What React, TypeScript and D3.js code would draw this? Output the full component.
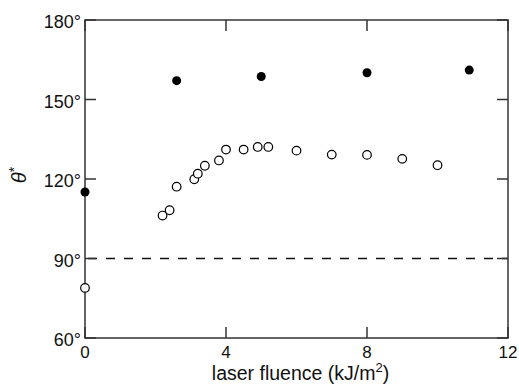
import React, { useEffect, useRef } from 'react';
import * as d3 from 'd3';

// filled circles: fluence (kJ/m2), theta* (deg)
const filledX = [0, 2.6, 5.0, 8.0, 10.9];
const filledY = [115.1, 157.1, 158.7, 160.1, 161.1];

// open circles
const openX = [0, 2.2, 2.4, 2.6, 3.1, 3.2, 3.4, 3.8, 4.0, 4.5, 4.9, 5.2, 6.0, 7.0, 8.0, 9.0, 10.0];
const openY = [78.9, 106.2, 108.2, 117.1, 119.9, 122.0, 125.0, 127.0, 131.1, 131.1, 132.1, 132.1, 130.7, 129.2, 129.1, 127.6, 125.2];

const xTicks = [0, 4, 8, 12];
const yTicks = [60, 90, 120, 150, 180];
const refLine = 90;

const W = 519;
const H = 385;

const App = () => {
  const svgRef = useRef<SVGSVGElement>(null);

  useEffect(() => {
    const svg = d3.select(svgRef.current);
    svg.selectAll('*').remove();

    const left = 85, right = 508, top = 20, bottom = 338;
    const x = d3.scaleLinear().domain([0, 12]).range([left, right]);
    const y = d3.scaleLinear().domain([60, 180]).range([bottom, top]);
    const font = '"Liberation Sans", Arial, Helvetica, sans-serif';
    const axisColor = '#333';
    const tickLen = 11;

    // dashed reference line
    svg.append('line')
      .attr('x1', x(0)).attr('x2', x(12))
      .attr('y1', y(refLine)).attr('y2', y(refLine))
      .attr('stroke', '#111')
      .attr('stroke-width', 1.3)
      .attr('stroke-dasharray', '9,9')
      .attr('stroke-dashoffset', -3);

    // frame
    svg.append('rect')
      .attr('x', left).attr('y', top)
      .attr('width', right - left).attr('height', bottom - top)
      .attr('fill', 'none')
      .attr('stroke', axisColor)
      .attr('stroke-width', 1.5);

    // ticks, inward on all four sides
    xTicks.forEach(t => {
      svg.append('line').attr('x1', x(t)).attr('x2', x(t))
        .attr('y1', bottom).attr('y2', bottom - tickLen)
        .attr('stroke', axisColor).attr('stroke-width', 1.5);
      svg.append('line').attr('x1', x(t)).attr('x2', x(t))
        .attr('y1', top).attr('y2', top + tickLen)
        .attr('stroke', axisColor).attr('stroke-width', 1.5);
      svg.append('text')
        .attr('x', x(t)).attr('y', bottom + 20)
        .attr('text-anchor', 'middle')
        .style('font-family', font).style('font-size', '17px')
        .attr('fill', '#111')
        .text(t);
    });
    yTicks.forEach(t => {
      svg.append('line').attr('x1', left).attr('x2', left + tickLen)
        .attr('y1', y(t)).attr('y2', y(t))
        .attr('stroke', axisColor).attr('stroke-width', 1.5);
      svg.append('line').attr('x1', right).attr('x2', right - tickLen)
        .attr('y1', y(t)).attr('y2', y(t))
        .attr('stroke', axisColor).attr('stroke-width', 1.5);
      svg.append('text')
        .attr('x', left - 4).attr('y', y(t) + 8)
        .attr('text-anchor', 'end')
        .style('font-family', font).style('font-size', '18px')
        .attr('fill', '#111')
        .text(t + '°');
    });

    // open circles
    svg.append('g').selectAll('circle')
      .data(openX.map((v, i) => [v, openY[i]]))
      .join('circle')
      .attr('cx', d => x(d[0])).attr('cy', d => y(d[1]))
      .attr('r', 4.3)
      .attr('fill', 'white')
      .attr('stroke', '#000')
      .attr('stroke-width', 1.2);

    // filled circles
    svg.append('g').selectAll('circle')
      .data(filledX.map((v, i) => [v, filledY[i]]))
      .join('circle')
      .attr('cx', d => x(d[0])).attr('cy', d => y(d[1]))
      .attr('r', 4.5)
      .attr('fill', '#000');

    // x label
    const xl = svg.append('text')
      .attr('x', (left + right) / 2 + 4).attr('y', 380)
      .attr('text-anchor', 'middle')
      .style('font-family', font).style('font-size', '19.5px')
      .attr('fill', '#111');
    xl.append('tspan').text('laser fluence (kJ/m');
    xl.append('tspan').attr('dy', -8).style('font-size', '13px').text('2');
    xl.append('tspan').attr('dy', 8).text(')');

    // y label
    const yl = svg.append('text')
      .attr('transform', `translate(26, ${(top + bottom) / 2 - 4}) rotate(-90)`)
      .attr('text-anchor', 'middle')
      .style('font-family', font).style('font-size', '20px')
      .attr('fill', '#111');
    yl.append('tspan').style('font-style', 'italic').text('θ');
    yl.append('tspan').attr('dy', -7).style('font-size', '14px').text('*');
  }, []);

  return (
    <svg ref={svgRef} width={W} height={H}
      style={{ position: 'absolute', left: 0, top: 0, background: 'white' }} />
  );
};

export default App;
